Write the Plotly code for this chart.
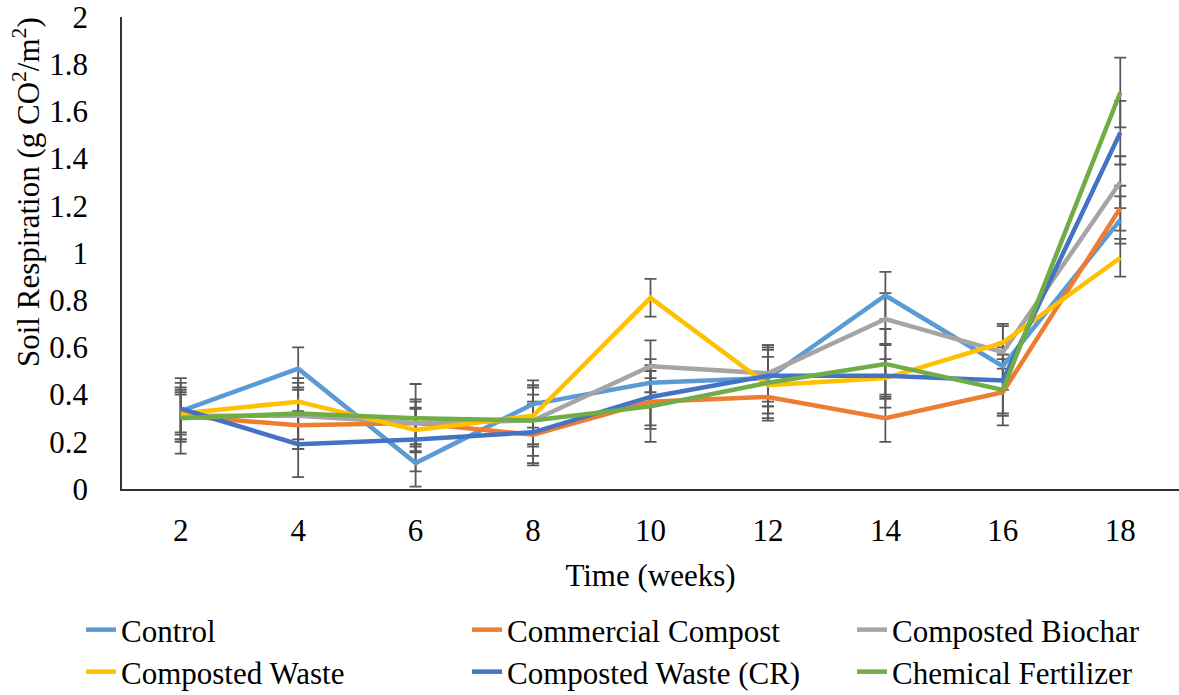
import plotly.graph_objects as go

weeks = [2, 4, 6, 8, 10, 12, 14, 16, 18]

series_names = ["Control", "Commercial Compost", "Composted Biochar",
                "Composted Waste", "Composted Waste (CR)", "Chemical Fertilizer"]

control = [0.33, 0.51, 0.11, 0.36, 0.45, 0.47, 0.82, 0.52, 1.14]
commercial = [0.31, 0.27, 0.28, 0.23, 0.37, 0.39, 0.30, 0.41, 1.19]
biochar = [0.31, 0.31, 0.28, 0.29, 0.52, 0.49, 0.72, 0.58, 1.30]
waste = [0.32, 0.37, 0.25, 0.31, 0.81, 0.44, 0.47, 0.62, 0.98]
waste_cr = [0.34, 0.19, 0.21, 0.24, 0.39, 0.48, 0.48, 0.46, 1.51]
chemical = [0.30, 0.32, 0.30, 0.29, 0.35, 0.45, 0.53, 0.42, 1.68]

control_err = [0.10, 0.09, 0.10, 0.10, 0.10, 0.12, 0.10, 0.10, 0.10]
commercial_err = [0.10, 0.10, 0.09, 0.13, 0.10, 0.10, 0.10, 0.10, 0.095]
biochar_err = [0.11, 0.14, 0.10, 0.11, 0.11, 0.12, 0.11, 0.12, 0.11]
waste_err = [0.08, 0.10, 0.09, 0.12, 0.08, 0.12, 0.08, 0.07, 0.08]
waste_cr_err = [0.13, 0.14, 0.135, 0.13, 0.135, 0.13, 0.135, 0.14, 0.135]
chemical_err = [0.15, 0.11, 0.145, 0.15, 0.15, 0.15, 0.148, 0.15, 0.148]

colors = ["#5B9BD5", "#ED7D31", "#A5A5A5", "#FFC000", "#4472C4", "#70AD47"]

y_ticks = [0, 0.2, 0.4, 0.6, 0.8, 1, 1.2, 1.4, 1.6, 1.8, 2]
y_tick_text = ["0", "0.2", "0.4", "0.6", "0.8", "1", "1.2", "1.4", "1.6", "1.8", "2"]

x_title = "Time (weeks)"
y_title = "Soil Respiration (g CO<sup>2</sup>/m<sup>2</sup>)"

values = [control, commercial, biochar, waste, waste_cr, chemical]
errors = [control_err, commercial_err, biochar_err, waste_err, waste_cr_err, chemical_err]

FONT = "Liberation Serif"
FS = 31

fig = go.Figure()

# error bars first, so every line is drawn above them
for vals, errs in zip(values, errors):
    fig.add_trace(go.Scatter(
        x=weeks, y=vals, mode="markers",
        marker=dict(size=0.1, opacity=0),
        error_y=dict(type="data", array=errs, visible=True,
                     color="#595959", thickness=1.8, width=6),
        showlegend=False, hoverinfo="skip",
    ))

legend_ids = ["legend", "legend2", "legend3", "legend4", "legend5", "legend6"]
for name, vals, col, lid in zip(series_names, values, colors, legend_ids):
    fig.add_trace(go.Scatter(
        x=weeks, y=vals, mode="lines", name=name,
        line=dict(color=col, width=4.5),
        legend=lid,
    ))

L, R, T, B = 122, 0, 17, 206
W, H = 1179, 695
pw = W - L - R
ph = H - T - B

def px_to_paper_x(px):
    return (px - L) / pw

def px_to_paper_y(py):
    return (H - B - py) / ph

col_x = [81, 467, 852]
row_y = [630, 672]

fig.update_layout(
    template="simple_white",
    width=W, height=H,
    margin=dict(l=L, r=R, t=T, b=B, pad=0, autoexpand=False),
    paper_bgcolor="white", plot_bgcolor="white",
    font=dict(family=FONT, size=FS, color="black"),
)
for i, lid in enumerate(legend_ids):
    r = i // 3
    c = i % 3
    fig.update_layout({lid: dict(
        x=px_to_paper_x(col_x[c]), y=px_to_paper_y(row_y[r]),
        xanchor="left", yanchor="middle",
        bgcolor="rgba(0,0,0,0)", borderwidth=0,
        font=dict(family=FONT, size=FS, color="black"),
        itemwidth=30,
    )})

fig.update_xaxes(
    range=[1, 19], tickmode="array", tickvals=weeks,
    ticktext=[str(w) for w in weeks],
    showgrid=False, zeroline=False, automargin=False,
    showline=True, linecolor="#333333", linewidth=1.5,
    ticks="", ticklabelstandoff=13,
    tickfont=dict(family=FONT, size=FS, color="black"),
    title=dict(text=x_title, font=dict(family=FONT, size=FS, color="black"), standoff=17),
)
fig.update_yaxes(
    range=[0, 2], tickmode="array", tickvals=y_ticks, ticktext=y_tick_text,
    showgrid=False, zeroline=False, automargin=False,
    showline=True, linecolor="#333333", linewidth=1.5,
    ticks="", ticklabelstandoff=26, ticklabeloverflow="allow",
    tickfont=dict(family=FONT, size=FS, color="black"),
)

fig.add_annotation(
    x=px_to_paper_x(26), y=px_to_paper_y(192), xref="paper", yref="paper",
    text=y_title, textangle=-90, showarrow=False,
    xanchor="center", yanchor="middle",
    font=dict(family=FONT, size=FS, color="black"),
)

fig.write_html("out.html")
